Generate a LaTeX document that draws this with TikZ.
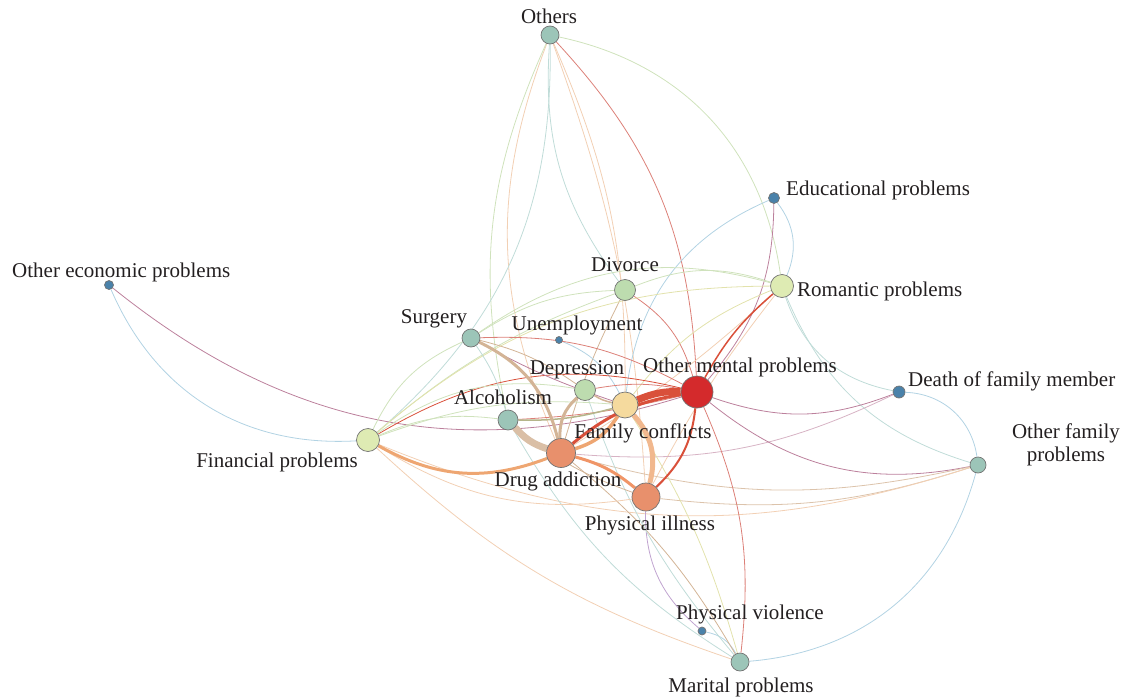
\documentclass[tikz,border=0pt]{standalone}
\usepackage{fontspec}
\setmainfont{Liberation Serif}
\usetikzlibrary{backgrounds}
\definecolor{txt}{HTML}{231F20}
\definecolor{nteal}{HTML}{9CC5B8}
\definecolor{nblue}{HTML}{4A82AA}
\definecolor{ngreen}{HTML}{BDDCAF}
\definecolor{nyel}{HTML}{DEEBB3}
\definecolor{nfc}{HTML}{F5DA9E}
\definecolor{nsal}{HTML}{E8906C}
\definecolor{nred}{HTML}{D42A2C}
\definecolor{ered}{HTML}{D9503A}
\definecolor{ered2}{HTML}{DC8078}
\definecolor{etan}{HTML}{D3B496}
\definecolor{eora}{HTML}{EEA672}
\definecolor{egrn}{HTML}{CFE2BC}
\definecolor{eteal}{HTML}{C0DCD8}
\definecolor{eblue}{HTML}{B2D3E3}
\definecolor{epur}{HTML}{BC809C}
\definecolor{eyel}{HTML}{E2E2AC}
\definecolor{efora}{HTML}{F2D0B4}
\begin{document}
\begin{tikzpicture}[x=1pt,y=-1pt,
  vtx/.style={circle,draw=black!55,line width=0.7pt,inner sep=0pt},
  lbl/.style={font=\fontsize{21}{23}\selectfont,text=txt,inner sep=0pt},
  e/.style={line width=0.8pt},
  m/.style={line width=1.5pt},
]
\useasboundingbox (0,0) rectangle (1130,699);
% vertices
\node[vtx,fill=nteal,minimum size=18pt] (oth) at (550,35) {};
\node[vtx,fill=nblue,minimum size=11pt] (edu) at (774,198) {};
\node[vtx,fill=nblue,minimum size=9pt] (oep) at (109,285) {};
\node[vtx,fill=ngreen,minimum size=21pt] (div) at (625,290) {};
\node[vtx,fill=nyel,minimum size=23pt] (rom) at (782,286) {};
\node[vtx,fill=nteal,minimum size=18pt] (sur) at (471,338) {};
\node[vtx,fill=nblue,minimum size=7pt] (une) at (559,340) {};
\node[vtx,fill=ngreen,minimum size=21pt] (dep) at (585,390) {};
\node[vtx,fill=nred,minimum size=32pt] (omp) at (697,392) {};
\node[vtx,fill=nblue,minimum size=12pt] (dfm) at (899,392) {};
\node[vtx,fill=nteal,minimum size=20pt] (alc) at (508,420) {};
\node[vtx,fill=nfc,minimum size=26pt] (fc) at (625,405) {};
\node[vtx,fill=nyel,minimum size=23pt] (fin) at (368,440) {};
\node[vtx,fill=nsal,minimum size=29pt] (da) at (561,453) {};
\node[vtx,fill=nteal,minimum size=16pt] (ofp) at (978,465) {};
\node[vtx,fill=nsal,minimum size=28pt] (pi) at (646,497) {};
\node[vtx,fill=nblue,minimum size=8pt] (pv) at (702,631) {};
\node[vtx,fill=nteal,minimum size=18pt] (mar) at (740,662) {};
% labels
\node[lbl,anchor=base] (loth) at (549,23) {Others};
\node[lbl,anchor=base west] (ledu) at (786,195) {Educational problems};
\node[lbl,anchor=base west] (loep) at (12,277) {Other economic problems};
\node[lbl,anchor=base] (ldiv) at (625,271) {Divorce};
\node[lbl,anchor=base west] (lrom) at (797,296) {Romantic problems};
\node[lbl,anchor=base] (lsur) at (434,323) {Surgery};
\node[lbl,anchor=base] (lune) at (577,330) {Unemployment};
\node[lbl,anchor=base] (ldep) at (577,374) {Depression};
\node[lbl,anchor=base west] (lomp) at (643,372) {Other mental problems};
\node[lbl,anchor=base west] (ldfm) at (908,386) {Death of family member};
\node[lbl,anchor=base] (lalc) at (503,404) {Alcoholism};
\node[lbl,anchor=base] (lfc) at (643,438) {Family conflicts};
\node[lbl,anchor=base east] (lfin) at (358,467) {Financial problems};
\node[lbl,anchor=base] (lda) at (558,486) {Drug addiction};
\node[lbl,anchor=base] (lofp1) at (1066,438) {Other family};
\node[lbl,anchor=base] (lofp2) at (1066,461) {problems};
\node[lbl,anchor=base] (lpi) at (650,530) {Physical illness};
\node[lbl,anchor=base west] (lpv) at (676,619) {Physical violence};
\node[lbl,anchor=base] (lmar) at (741,692) {Marital problems};
% edges
\begin{pgfonlayer}{background}
% faint/thin
\draw[e,egrn] (oth) to[bend left=35] (rom);
\draw[e,ered2] (oth) to[bend left=20] (omp);
\draw[e,eteal] (oth) to[bend right=20] (div);
\draw[e,efora] (oth) to[bend left=12] (fc);
\draw[e,efora] (oth) to[bend right=22] (da);
\draw[e,egrn] (oth) to[bend right=18] (alc);
\draw[e,eteal] (oth) to[bend left=25] (fin);
\draw[e,efora] (oth) to[bend left=8] (pi);
\draw[e,eblue] (edu) to[bend left=30] (rom);
\draw[e,epur] (edu) to[bend left=20] (omp);
\draw[e,eblue] (edu) to[bend right=30] (fc);
\draw[e,eblue] (oep) to[bend right=35] (fin);
\draw[e,epur] (oep) to[bend right=28] (omp);
\draw[e,egrn] (div) to[bend left=20] (rom);
\draw[e,egrn] (sur) to[bend left=25] (rom);
\draw[e,ered2] (div) to[bend left=20] (omp);
\draw[e,etan] (div) to[bend right=5] (da);
\draw[e,egrn] (div) to[bend right=15] (sur);
\draw[e,egrn] (div) to[bend right=10] (fin);
\draw[e,eyel] (fin) to[bend left=20] (rom);
\draw[e,eyel] (rom) to[bend right=15] (fc);
\draw[e,efora] (rom) to[bend left=5] (da);
\draw[e,efora] (rom) to[bend right=5] (pi);
\draw[e,eteal] (rom) to[bend right=30] (dfm);
\draw[e,eteal] (rom) to[bend right=25] (ofp);
\draw[e,eblue] (dfm) to[bend left=40] (ofp);
\draw[e,epur] (dfm) to[bend left=20] (omp);
\draw[e,epur!60] (dfm) to[bend left=15] (da);
\draw[e,epur] (omp) to[bend right=25] (ofp);
\draw[e,etan!80] (ofp) to[bend left=12] (pi);
\draw[e,etan!80] (ofp) to[bend left=14] (da);
\draw[e,efora] (fin) to[bend right=20] (ofp);
\draw[e,eblue] (ofp) to[bend left=35] (mar);
\draw[e,eblue] (pv) to[bend left=25] (mar);
\draw[e,blue!20!epur!60] (pv) to[bend left=25] (pi);
\draw[e,ered2] (mar) to[bend right=15] (omp);
\draw[e,eyel] (mar) to[bend right=8] (fc);
\draw[e,etan] (mar) to[bend right=10] (da);
\draw[e,efora] (mar) to[bend left=12] (fin);
\draw[e,eteal] (mar) to[bend left=14] (alc);
\draw[e,eteal] (mar) to[bend left=10] (dep);
\draw[e,eblue] (une) to[bend left=20] (fc);
\draw[e,ered] (fin) to[bend left=22] (omp);
\draw[e,egrn] (fin) to[bend left=12] (fc);
\draw[e,egrn] (fin) to[bend left=15] (alc);
\draw[e,egrn] (fin) to[bend left=22] (dep);
\draw[e,egrn] (fin) to[bend left=20] (sur);
\draw[e,efora] (fin) to[bend right=20] (pi);
\draw[e,eteal] (sur) to[bend left=10] (alc);
\draw[e,ered2] (sur) to[bend left=15] (omp);
\draw[e,epur] (sur) to[bend right=5] (fc);
\draw[e,etan] (sur) to[bend left=10] (dep);
\draw[e,etan] (alc) to[bend right=10] (pi);
\draw[e,ered2] (alc) to[bend right=5] (omp);
% medium
\draw[m,black!20!eyel] (alc) to[bend right=8] (fc);
\draw[m,etan] (dep) to[bend right=10] (fc);
\draw[e,ered2] (dep) to[bend left=10] (omp);
\draw[m,ered] (rom) to[bend right=10] (omp);
\draw[line width=2pt,ered] (pi) to[bend right=20] (omp);
% thick
\draw[line width=3pt,etan] (dep) to[bend right=25] (da);
\draw[line width=3pt,etan] (sur) to[bend left=25] (da);
\draw[line width=3pt,eora] (fin) to[bend right=25] (da);
\draw[line width=3pt,eora!90!red] (da) to[bend left=12] (pi);
\draw[line width=3.5pt,eora] (da) to[bend right=20] (fc);
\draw[line width=3pt,ered] (da) to[bend left=15] (omp);
\draw[line width=5pt,eora!80] (fc) to[bend left=28] (pi);
\draw[line width=7pt,etan!85] (alc) to[bend right=15] (da);
\draw[line width=7pt,ered] (fc) to[bend left=12] (omp);
\end{pgfonlayer}
\end{tikzpicture}
\end{document}
